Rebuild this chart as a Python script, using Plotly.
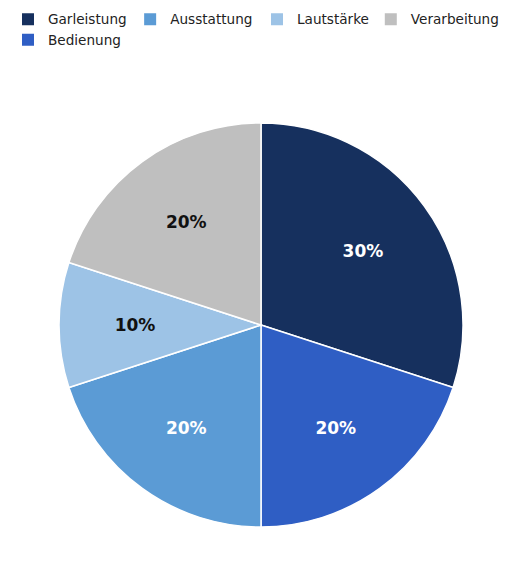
import plotly.graph_objects as go

# Daten
kategorien = ['Garleistung', 'Bedienung', 'Ausstattung', 'Lautstärke', 'Verarbeitung']
anteile = [30, 20, 20, 10, 20]
farben = ['#16305e', '#2f5ec4', '#5b9bd5', '#9dc3e6', '#bfbfbf']
textfarben = ['white', 'white', 'white', '#111111', '#111111']

# Legende: welche Legende (Spalte) für jede Kategorie
legenden = ['legend', 'legend', 'legend2', 'legend3', 'legend4']

# Prozent-Beschriftung: 20%-Segmente auf dem Hauptkreis, 30%/10% auf dem Hilfsring
pct = '%{percent:.0%}'
text_haupt = ['', pct, pct, '', pct]
text_ring = [pct, '', '', pct, '']

fig = go.Figure()

fig.add_trace(go.Pie(labels=kategorien,
                     values=anteile,
                     sort=False,
                     direction='clockwise',
                     rotation=0,
                     marker=dict(colors=farben, line=dict(color='white', width=1.5)),
                     texttemplate=text_haupt,
                     textposition='inside',
                     insidetextorientation='horizontal',
                     insidetextfont=dict(color=textfarben, size=17, family='DejaVu Sans', weight='bold'),
                     hoverinfo='label+percent',
                     showlegend=False))

# unsichtbarer Ring nur für die Lage der Beschriftung (ca. 0.6 r)
fig.add_trace(go.Pie(labels=kategorien,
                     values=anteile,
                     sort=False,
                     direction='clockwise',
                     rotation=0,
                     hole=0.536,
                     domain=dict(x=[0.094, 0.906], y=[0.094, 0.906]),
                     marker=dict(colors=['rgba(0,0,0,0)'] * 5, line=dict(width=0)),
                     texttemplate=text_ring,
                     textposition='inside',
                     insidetextorientation='horizontal',
                     insidetextfont=dict(color=textfarben, size=17, family='DejaVu Sans', weight='bold'),
                     hoverinfo='skip',
                     showlegend=False))

# Legenden-Einträge (Spalten wie im Original)
for name, farbe, leg in zip(kategorien, farben, legenden):
    fig.add_trace(go.Scatter(x=[None], y=[None],
                             mode='markers',
                             name=name,
                             legend=leg,
                             hoverinfo='skip',
                             marker=dict(symbol='square', size=12, color=farbe)))

leg_style = dict(font=dict(family='DejaVu Sans', size=13.6, color='#222222'),
                 xref='container', yref='paper',
                 xanchor='left', yanchor='top',
                 bgcolor='rgba(0,0,0,0)', orientation='v',
                 tracegroupgap=0)

leg_y = 1.295

fig.update_layout(
    width=522, height=587,
    paper_bgcolor='white', plot_bgcolor='white',
    margin=dict(l=51, r=67, t=115, b=68, autoexpand=False),
    xaxis=dict(visible=False), yaxis=dict(visible=False),
    legend=dict(x=0.0, y=leg_y, **leg_style),
    legend2=dict(x=0.234, y=leg_y, **leg_style),
    legend3=dict(x=0.477, y=leg_y, **leg_style),
    legend4=dict(x=0.695, y=leg_y, **leg_style),
)

fig.write_html("out.html")
